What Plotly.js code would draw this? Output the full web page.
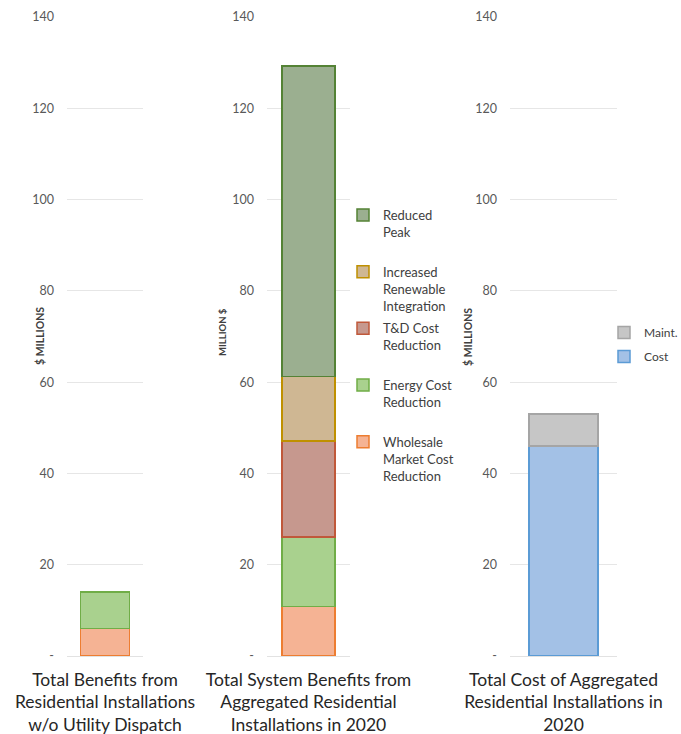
<!DOCTYPE html>
<html>
<head>
<meta charset="utf-8">
<script src="https://cdn.plot.ly/plotly-3.0.1.min.js"></script>
<style>html,body{margin:0;padding:0;background:#fff;}#chart{width:681px;height:734px;}</style>
</head>
<body>
<div id="chart"></div>
<script>
// ---- data ----
const categories = [
  "Total Benefits from<br>Residential Installations<br>w/o Utility Dispatch",
  "Total System Benefits from<br>Aggregated Residential<br>Installations in 2020",
  "Total Cost of Aggregated<br>Residential Installations in<br>2020"
];
const benefitSeries = [
  "Wholesale<br>Market Cost<br>Reduction",
  "Energy Cost<br>Reduction",
  "T&D Cost<br>Reduction",
  "Increased<br>Renewable<br>Integration",
  "Reduced<br>Peak"
];
const noDispatchValues = [6, 8];                       // Wholesale, Energy
const aggregatedValues = [10.8, 15.3, 21.0, 14.1, 68.1]; // matches benefitSeries
const costSeries = ["Cost", "Maint."];
const costValues = [46, 7];
const yTickVals = [0, 20, 40, 60, 80, 100, 120, 140];
const yTickText = ["-", "20", "40", "60", "80", "100", "120", "140"];
const yTitles = ["$ MILLIONS", "MILLION $", "$ MILLIONS"];

// ---- styles ----
const benefitFill = ["#F5B394", "#A9D18E", "#C6988E", "#CFB793", "#9BAF90"];
const benefitLine = ["#ED7D31", "#70AD47", "#C0583A", "#BF9000", "#548235"];
const costFill = ["#A3C1E6", "#C6C6C6"];
const costLine = ["#5B9BD5", "#A5A5A5"];
const W = 681, H = 734;
const FONT = "Lato, 'Open Sans', sans-serif";

function padLines(s) {
  const n = s.split("<br>").length;
  return n < 3 ? s + "<br> " : s;
}

const traces = [];
noDispatchValues.forEach((v, i) => {
  traces.push({
    type: "bar", x: [categories[0]], y: [v], xaxis: "x", yaxis: "y",
    width: 0.65, showlegend: false, hoverinfo: "skip",
    marker: {color: benefitFill[i], line: {color: benefitLine[i], width: 1.5}}
  });
});
aggregatedValues.forEach((v, i) => {
  traces.push({
    type: "bar", x: [categories[1]], y: [v], xaxis: "x2", yaxis: "y2",
    width: 0.64, name: padLines(benefitSeries[i]), legendgroup: "g" + i, legend: "legend",
    legendrank: aggregatedValues.length - i,
    marker: {color: benefitFill[i], line: {color: benefitLine[i], width: 1.5}}
  });
});
costValues.forEach((v, i) => {
  traces.push({
    type: "bar", x: [categories[2]], y: [v], xaxis: "x3", yaxis: "y3",
    width: 0.645, name: costSeries[i], legendgroup: "c" + i, legend: "legend2",
    legendrank: costValues.length - i,
    marker: {color: costFill[i], line: {color: costLine[i], width: 1.5}}
  });
});

const yDom = [(H - 656) / H, (H - 17) / H];
function yax(anchor) {
  return {
    domain: yDom, range: [0, 140], anchor: anchor,
    tickvals: yTickVals, ticktext: yTickText, ticks: "",
    tickfont: {family: FONT, size: 12.5, color: "#595959"},
    ticklabelstandoff: 12,
    showgrid: true, gridcolor: "#E6E6E6", gridwidth: 1,
    zeroline: true, zerolinecolor: "#E2E2E2", zerolinewidth: 1,
    showline: false, fixedrange: true, automargin: false
  };
}
function xax(x0, x1, anchor) {
  return {
    domain: [x0 / W, x1 / W], anchor: anchor, type: "category",
    showgrid: false, showline: false, zeroline: false, ticks: "",
    tickfont: {family: FONT, size: 17.5, color: "#262626"},
    ticklabelstandoff: 11,
    fixedrange: true, automargin: false
  };
}

const annPos = [[40, 336], [222, 332], [468, 337]];
const annotations = yTitles.map((t, i) => ({
  text: t, xref: "paper", yref: "paper",
  x: annPos[i][0] / W, y: 1 - annPos[i][1] / H,
  xanchor: "center", yanchor: "middle", textangle: -90, showarrow: false,
  font: {family: FONT, size: i === 1 ? 9.5 : 10.5, color: "#404040", weight: "bold"}
}));

const layout = {
  width: W, height: H,
  margin: {l: 0, r: 0, t: 0, b: 0, autoexpand: false},
  paper_bgcolor: "#fff", plot_bgcolor: "#fff",
  barmode: "stack",
  xaxis: xax(67, 143, "y"), yaxis: yax("x"),
  xaxis2: xax(267, 350, "y2"), yaxis2: yax("x2"),
  xaxis3: xax(510, 617, "y3"), yaxis3: yax("x3"),
  legend: {
    x: 343 / W, y: 1 - 200 / H, xanchor: "left", yanchor: "top",
    traceorder: "grouped", valign: "top", tracegroupgap: 3,
    font: {family: FONT, size: 13, color: "#404040"},
    bgcolor: "rgba(0,0,0,0)"
  },
  legend2: {
    x: 604 / W, y: 1 - 318 / H, xanchor: "left", yanchor: "top",
    traceorder: "grouped", valign: "middle", tracegroupgap: 5,
    font: {family: FONT, size: 12, color: "#404040"},
    bgcolor: "rgba(0,0,0,0)"
  },
  annotations: annotations,
  showlegend: true
};

Plotly.newPlot("chart", traces, layout, {displayModeBar: false, staticPlot: true});
</script>
</body>
</html>
